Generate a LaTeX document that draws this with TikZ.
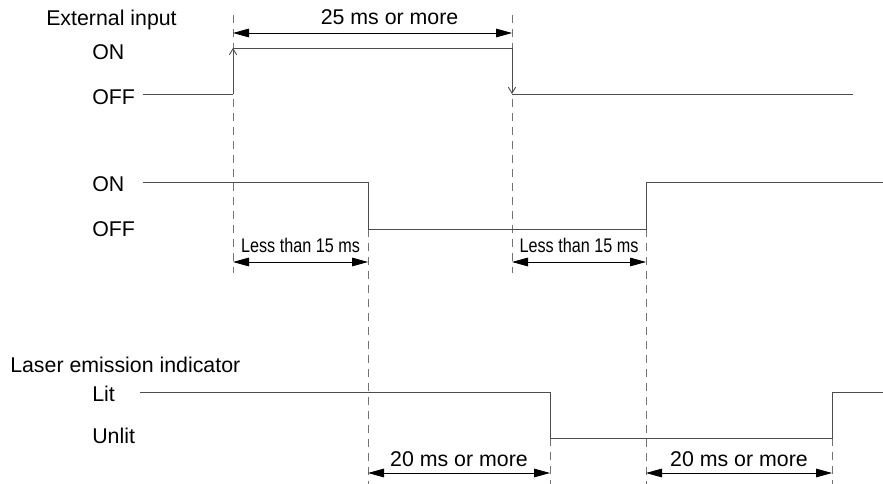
\documentclass[tikz,border=0pt]{standalone}
\usepackage{fontspec}
\setmainfont{Liberation Sans}
\usetikzlibrary{arrows.meta}

\begin{document}
\begin{tikzpicture}[
x=0.75pt, y=-0.75pt,
font=\fontsize{16}{19}\selectfont,
signal/.style={draw=black!70, line width=0.65pt},
rise/.style={signal, -{Straight Barb[length=4.5pt, width=5.5pt]}},
guide/.style={draw=black!55, line width=0.6pt, dash pattern=on 6pt off 4.5pt},
dim/.style={{Triangle[length=12pt, width=6.5pt]}-{Triangle[length=12pt, width=6.5pt]}, line width=0.6pt},
level/.style={anchor=west, inner sep=0pt},
title/.style={anchor=base west, inner sep=0pt},
narrow/.style={inner sep=0pt, font=\fontsize{14.8}{17}\selectfont}
]
\useasboundingbox (0,0) rectangle (883,484);

% --- Instants ---
\coordinate (inon)   at (233,0);
\coordinate (inoff)  at (512,0);
\coordinate (qoff)   at (368,0);
\coordinate (qon)    at (646,0);
\coordinate (ldark)  at (550,0);
\coordinate (llit)   at (832,0);

% --- Levels ---
\coordinate (inH)  at (0,48);
\coordinate (inL)  at (0,94);
\coordinate (outH) at (0,182);
\coordinate (outL) at (0,229);
\coordinate (litH) at (0,392);
\coordinate (litL) at (0,438);

% --- Labels ---
\node[title] (extin) at (46,26) {External input};
\node[level] (inonlbl)  at (92,52) {ON};
\node[level] (inofflbl) at (92,97) {OFF};
\node[level] (outonlbl)  at (92,184) {ON};
\node[level] (outofflbl) at (92,229) {OFF};
\node[title] (laser) at (10,373) {Laser emission indicator};
\node[level] (litlbl)   at (92,394) {Lit};
\node[level] (unlitlbl) at (92,436) {Unlit};

% --- Guides ---
\draw[guide] (inon |- 0,15) -- (inon |- 0,273);
\draw[guide] (inoff |- 0,15) -- (inoff |- 0,273);
\draw[guide] (qoff |- outL) -- (qoff |- 0,484);
\draw[guide] (qon |- outL) -- (qon |- 0,484);
\draw[guide] (ldark |- litL) -- (ldark |- 0,484);
\draw[guide] (llit |- litL) -- (llit |- 0,484);

% --- External input ---
\draw[signal] (143,94) -- (inon |- inL);
\draw[rise] (inon |- inL) -- (inon |- inH);
\draw[signal] (inon |- inH) -- (inoff |- inH);
\draw[rise] (inoff |- inH) -- (inoff |- inL);
\draw[signal] (inoff |- inL) -- (853,94);

% --- Output ---
\draw[signal] (143,182) -- (qoff |- outH) -- (qoff |- outL) -- (qon |- outL) -- (qon |- outH) -- (883,182);

% --- Laser emission indicator ---
\draw[signal] (140,392) -- (ldark |- litH) -- (ldark |- litL) -- (llit |- litL) -- (llit |- litH) -- (883,392);

% --- Dimensions ---
\draw[dim] (inon |- 0,33) -- (inoff |- 0,33) node[pos=0.561, above=6pt, inner sep=0pt] (dimin) {25 ms or more};
\draw[dim] (inon |- 0,262) -- (qoff |- 0,262) node[midway, above=7pt, narrow] (dimoffa) {\scalebox{0.82}[1]{Less than 15 ms}};
\draw[dim] (inoff |- 0,262) -- (qon |- 0,262) node[midway, above=7pt, narrow] (dimonb) {\scalebox{0.82}[1]{Less than 15 ms}};
\draw[dim] (qoff |- 0,473) -- (ldark |- 0,473) node[midway, above=4.5pt, inner sep=0pt] (dimlita) {20 ms or more};
\draw[dim] (qon |- 0,473) -- (llit |- 0,473) node[midway, above=4.5pt, inner sep=0pt] (dimlitb) {20 ms or more};

\end{tikzpicture}
\end{document}
